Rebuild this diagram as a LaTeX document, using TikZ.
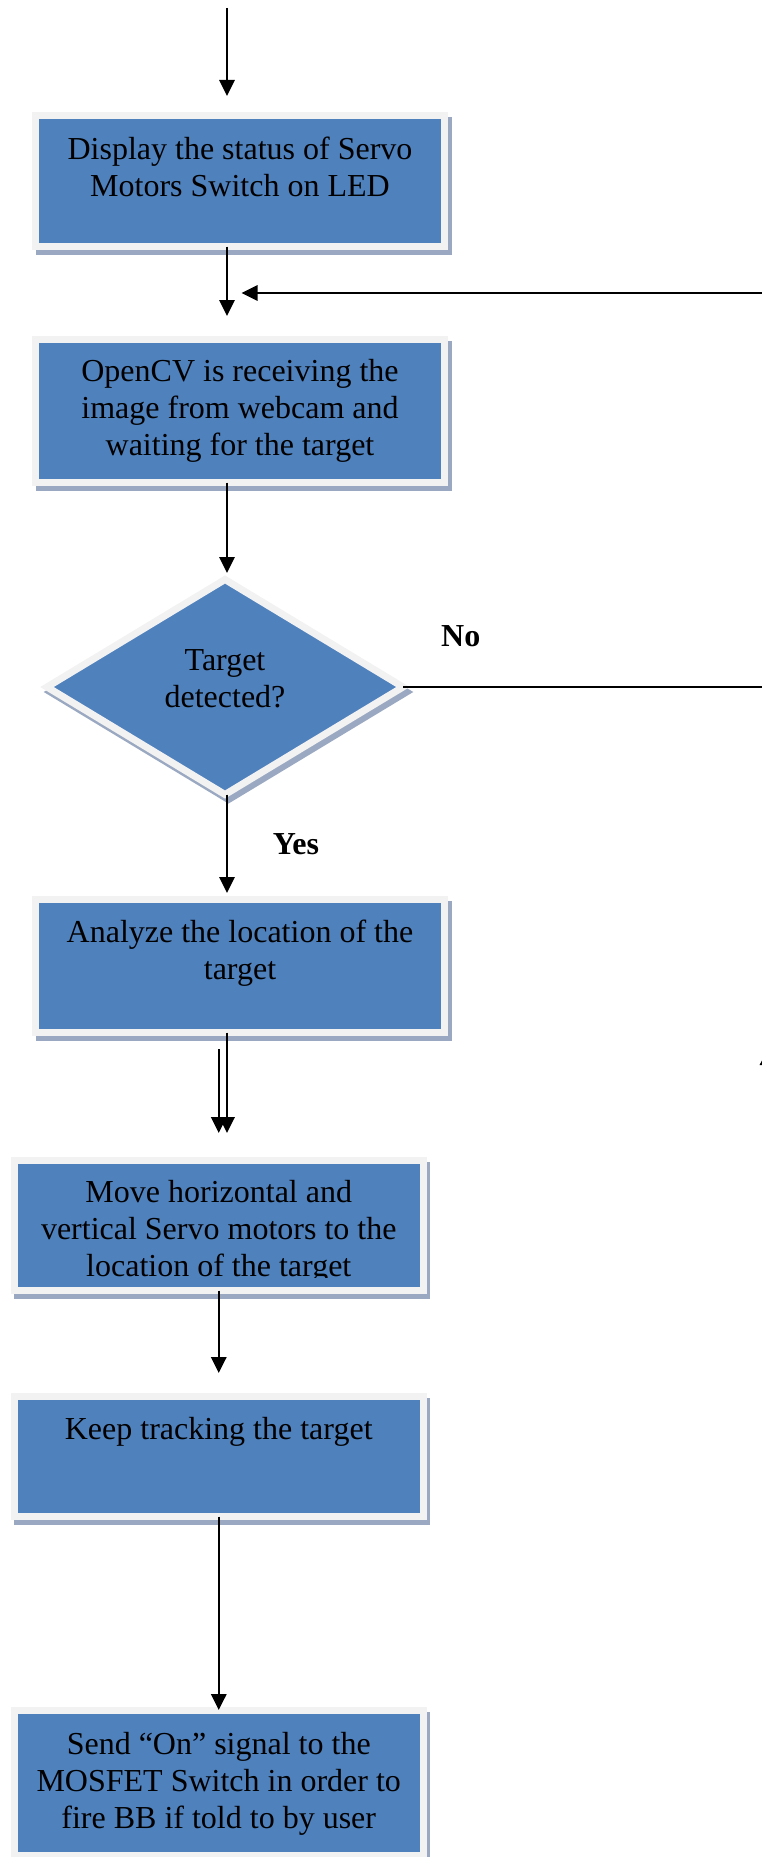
\documentclass[tikz,border=0pt]{standalone}
\usepackage{fontspec}
\setmainfont{Liberation Serif}
\usetikzlibrary{arrows.meta,shapes.geometric}

\definecolor{procblue}{HTML}{4F81BD}
\definecolor{procframe}{HTML}{F2F2F2}
\definecolor{procshade}{HTML}{9AA9C1}

% fixed-size, top-aligned text block used inside the process boxes
\newcommand{\flowtext}[3]{\parbox[c][#1][t]{#2}{\centering #3}}

\tikzset{
  flowfont/.style={font=\fontsize{32}{37}\selectfont},
  shadowed/.style={preaction={draw=procshade, fill=procshade, line width=7pt,
      transform canvas={shift={(3.5,5)}}}},
  flowbox/.style={rectangle, shadowed, fill=procblue, draw=procframe,
    line width=7pt, inner sep=3.5pt, outer sep=0pt, flowfont},
  flowdiamond/.style={diamond, shadowed, fill=procblue, draw=procframe,
    line width=7pt, inner sep=0pt, outer sep=0pt, shape aspect=1.656, flowfont},
  flowline/.style={line width=1.8pt, black},
  flowarrow/.style={flowline, -{Triangle[length=16pt,width=15.5pt]}},
  branchlabel/.style={font=\fontsize{32}{37}\selectfont\bfseries, inner sep=0pt}
}

\begin{document}
\begin{tikzpicture}[x=1pt, y=-1pt]
  \useasboundingbox (0,0) rectangle (762,1857);

  % process boxes and decision
  \node[flowbox] (b1) at (240,181)
    {\flowtext{124pt}{402pt}{\rule{0pt}{40pt}Display the status of Servo\\Motors Switch on LED}};
  \node[flowbox] (b2) at (240,411)
    {\flowtext{136pt}{402pt}{\rule{0pt}{38pt}OpenCV is receiving the\\image from webcam and\\waiting for the target}};
  \node[flowdiamond, minimum width=356pt, minimum height=215pt] (d) at (225,687)
    {\parbox[c][100pt][t]{160pt}{\centering\rule{0pt}{33pt}Target\\detected?}};
  \node[flowbox] (b3) at (240,966)
    {\flowtext{126pt}{402pt}{\rule{0pt}{39pt}Analyze the location of the\\target}};
  \node[flowbox, minimum width=409pt, minimum height=130pt] (b4) at (218.75,1225.5) {};
  \begin{scope}
    % the text frame cuts off the last line of this box
    \clip (b4.north west) rectangle ([yshift=13pt]b4.south east);
    \node[flowfont, inner sep=0pt] (t4) at (b4.center)
      {\flowtext{123pt}{402pt}{\rule{0pt}{38pt}Move horizontal and\\vertical Servo motors to the\\location of the target}};
  \end{scope}
  \node[flowbox] (b5) at (218.75,1456.5)
    {\flowtext{113pt}{402pt}{\rule{0pt}{39pt}Keep tracking the target}};
  \node[flowbox] (b6) at (218.75,1783)
    {\flowtext{138pt}{402pt}{\rule{0pt}{40pt}Send “On” signal to the\\MOSFET Switch in order to\\fire BB if told to by user}};

  % branch labels
  \node[branchlabel, anchor=base west] (nolab) at (441,646) {No};
  \node[branchlabel, anchor=base] (yeslab) at (296,854) {Yes};

  % connectors
  \coordinate (in0) at (227,8);
  \coordinate (ret) at (764,293);
  \draw[flowarrow, shorten >=19.5pt] (in0) -- (in0 |- b1.north);
  \draw[flowarrow, shorten >=23.5pt] (in0 |- b1.south) -- (in0 |- b2.north);
  \draw[flowarrow, shorten >=14.5pt] (ret) -- (in0 |- ret);
  \draw[flowarrow, shorten >=6.5pt] (in0 |- b2.south) -- (in0 |- d.north);
  \draw[flowline] (d.east) -- (d.east -| ret);
  \draw[flowarrow, shorten >=6.5pt] (in0 |- d.south) -- (in0 |- b3.north);
  \draw[flowarrow, shorten >=27.5pt] (in0 |- b3.south) -- (in0 |- b4.north);
  \draw[flowarrow, shorten <=16.5pt, shorten >=27.5pt] (b3.south -| b4.north) -- (b4.north);
  \draw[flowarrow, shorten >=23.5pt] (b4.south) -- (b5.north);
  \draw[flowarrow, shorten >=0.5pt] (b5.south) -- (b6.north);

  % fragment at the right edge
  \fill (759.5,1065) -- (762,1060.5) -- (762,1065) -- cycle;
\end{tikzpicture}
\end{document}
